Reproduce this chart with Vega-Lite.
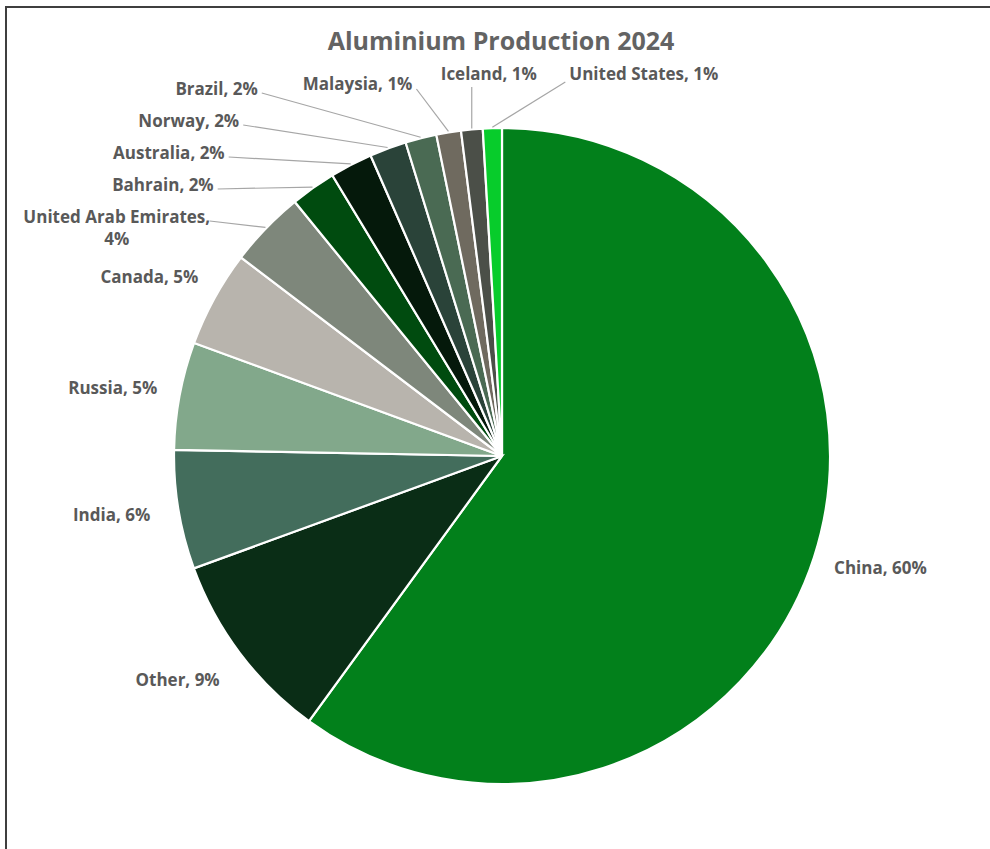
{
  "$schema": "https://vega.github.io/schema/vega-lite/v6.json",
  "width": 990,
  "height": 849,
  "autosize": {"type": "none"},
  "padding": {"left": 6, "top": 7, "right": 0, "bottom": 0},
  "background": "white",
  "view": {"stroke": "#3f3f3f", "strokeWidth": 2},
  "config": {"font": "Open Sans"},
  "title": {"text": "Aluminium Production 2024", "anchor": "middle", "frame": "group", "offset": -48, "font": "Open Sans", "fontSize": 25, "fontWeight": "bold", "color": "#636363"},
  "data": {"values": [
    {"country": "China", "value": 43000, "idx": 1},
    {"country": "Other", "value": 6750, "idx": 2},
    {"country": "India", "value": 4200, "idx": 3},
    {"country": "Russia", "value": 3800, "idx": 4},
    {"country": "Canada", "value": 3400, "idx": 5},
    {"country": "United Arab Emirates", "value": 2700, "idx": 6},
    {"country": "Bahrain", "value": 1600, "idx": 7},
    {"country": "Australia", "value": 1500, "idx": 8},
    {"country": "Norway", "value": 1300, "idx": 9},
    {"country": "Brazil", "value": 1100, "idx": 10},
    {"country": "Malaysia", "value": 870, "idx": 11},
    {"country": "Iceland", "value": 760, "idx": 12},
    {"country": "United States", "value": 670, "idx": 13}
  ]},
  "transform": [
    {"joinaggregate": [{"op": "sum", "field": "value", "as": "total"}]},
    {"window": [{"op": "sum", "field": "value", "as": "cum"}], "sort": [{"field": "idx", "order": "ascending"}], "frame": [null, 0]},
    {"calculate": "(datum.cum - datum.value) / datum.total", "as": "f0"},
    {"calculate": "datum.cum / datum.total", "as": "f1"},
    {"calculate": "PI * (datum.f0 + datum.f1)", "as": "mid"},
    {"calculate": "datum.value / datum.total", "as": "share"},
    {"calculate": "datum.country + (length(datum.country) > 15 ? ',\\n' : ', ') + format(datum.share, '.0%')", "as": "label"},
    {"calculate": "datum.share < 0.045 ? 1 : 0", "as": "small"},
    {"window": [{"op": "row_number", "as": "rn"}], "groupby": ["small"], "sort": [{"field": "idx", "order": "ascending"}]},
    {"calculate": "datum.rn - 1", "as": "k"},
    {"calculate": "329 * sin(datum.mid)", "as": "rx"},
    {"calculate": "329 * cos(datum.mid)", "as": "ry"},
    {"calculate": "datum.mid + 0.04 * sin(2 * datum.mid)", "as": "bmid"},
    {"calculate": "395 * sin(datum.bmid)", "as": "bx"},
    {"calculate": "395 * cos(datum.bmid)", "as": "by"},
    {"calculate": "datum.k <= 4 ? 238 + 32 * datum.k : (datum.k == 5 ? 371 : 381)", "as": "ly"},
    {"calculate": "datum.k <= 4 ? -sqrt(pow(380 + 15 * datum.k, 2) - pow(datum.ly, 2)) : (datum.k == 5 ? datum.rx - 36 : (datum.k == 6 ? datum.rx - 31 : datum.rx + 77))", "as": "lx"},
    {"calculate": "datum.k <= 5 ? datum.lx + 4 : (datum.k == 6 ? datum.rx : datum.lx - 4)", "as": "tx"},
    {"calculate": "datum.k <= 4 ? datum.ly - 3 : (datum.k == 5 ? datum.ly - 4 : (datum.k == 6 ? datum.ly - 12 : datum.ly - 7))", "as": "ty"},
    {"calculate": "datum.lx - 89", "as": "ux"}
  ],
  "layer": [
    {
      "mark": {"type": "arc", "outerRadius": 328, "stroke": "#ffffff", "strokeWidth": 2.2},
      "encoding": {
        "x": {"datum": 0, "type": "quantitative", "scale": {"domain": [-496, 494], "nice": false, "zero": false}, "axis": null},
        "y": {"datum": 0, "type": "quantitative", "scale": {"domain": [-400, 449], "nice": false, "zero": false}, "axis": null},
        "theta": {"field": "f0", "type": "quantitative", "stack": null, "scale": {"domain": [0, 1]}},
        "theta2": {"field": "f1"},
        "color": {"field": "country", "type": "nominal", "legend": null,
          "scale": {
            "domain": ["China", "Other", "India", "Russia", "Canada", "United Arab Emirates", "Bahrain", "Australia", "Norway", "Brazil", "Malaysia", "Iceland", "United States"],
            "range": ["#02801B", "#0A2D16", "#436D5C", "#82A88B", "#B8B4AD", "#7E877B", "#004B0F", "#05190B", "#2A4339", "#4A6A53", "#6F6A5F", "#4B4F48", "#07CC2B"]
          }}
      }
    },
    {
      "transform": [{"filter": "datum.small == 1"}],
      "mark": {"type": "rule", "color": "#A6A6A6", "strokeWidth": 1.2},
      "encoding": {
        "x": {"field": "rx", "type": "quantitative", "scale": {"domain": [-496, 494], "nice": false, "zero": false}, "axis": null},
        "y": {"field": "ry", "type": "quantitative", "scale": {"domain": [-400, 449], "nice": false, "zero": false}, "axis": null},
        "x2": {"field": "tx"},
        "y2": {"field": "ty"}
      }
    },
    {
      "transform": [{"filter": "datum.small == 0"}],
      "mark": {"type": "text", "align": "center", "baseline": "middle", "font": "Open Sans", "fontSize": 17, "fontWeight": "bold", "color": "#595959"},
      "encoding": {
        "x": {"field": "bx", "type": "quantitative", "scale": {"domain": [-496, 494], "nice": false, "zero": false}, "axis": null},
        "y": {"field": "by", "type": "quantitative", "scale": {"domain": [-400, 449], "nice": false, "zero": false}, "axis": null},
        "text": {"field": "label"}
      }
    },
    {
      "transform": [{"filter": "datum.small == 1 && datum.k >= 1 && datum.k <= 5"}],
      "mark": {"type": "text", "align": "right", "baseline": "middle", "font": "Open Sans", "fontSize": 17, "fontWeight": "bold", "color": "#595959"},
      "encoding": {
        "x": {"field": "lx", "type": "quantitative", "scale": {"domain": [-496, 494], "nice": false, "zero": false}, "axis": null},
        "y": {"field": "ly", "type": "quantitative", "scale": {"domain": [-400, 449], "nice": false, "zero": false}, "axis": null},
        "text": {"field": "label"}
      }
    },
    {
      "transform": [{"filter": "datum.small == 1 && datum.k == 0"}],
      "mark": {"type": "text", "align": "center", "baseline": "middle", "lineBreak": "\n", "lineHeight": 22, "font": "Open Sans", "fontSize": 17, "fontWeight": "bold", "color": "#595959"},
      "encoding": {
        "x": {"field": "ux", "type": "quantitative", "scale": {"domain": [-496, 494], "nice": false, "zero": false}, "axis": null},
        "y": {"field": "ly", "type": "quantitative", "scale": {"domain": [-400, 449], "nice": false, "zero": false}, "axis": null},
        "text": {"field": "label"}
      }
    },
    {
      "transform": [{"filter": "datum.small == 1 && datum.k >= 6"}],
      "mark": {"type": "text", "align": "left", "baseline": "middle", "font": "Open Sans", "fontSize": 17, "fontWeight": "bold", "color": "#595959"},
      "encoding": {
        "x": {"field": "lx", "type": "quantitative", "scale": {"domain": [-496, 494], "nice": false, "zero": false}, "axis": null},
        "y": {"field": "ly", "type": "quantitative", "scale": {"domain": [-400, 449], "nice": false, "zero": false}, "axis": null},
        "text": {"field": "label"}
      }
    }
  ]
}
